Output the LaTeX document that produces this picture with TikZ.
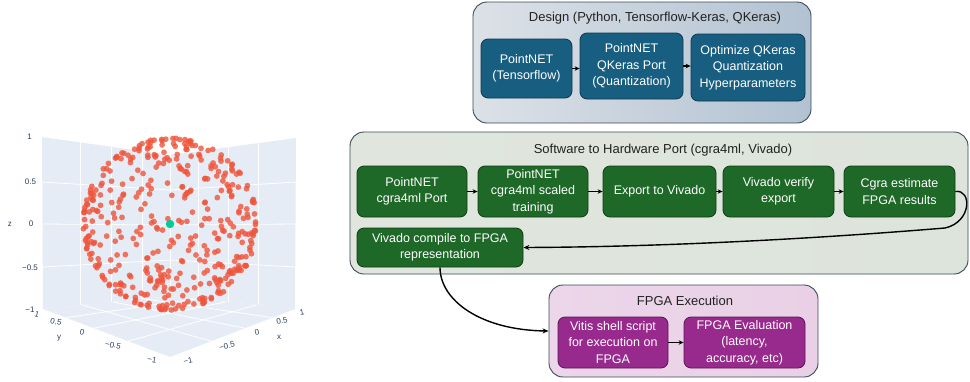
\documentclass[tikz,border=0pt]{standalone}
\usepackage{fontspec}
\setmainfont{Liberation Sans}
\usetikzlibrary{arrows.meta}
\definecolor{plotbg}{HTML}{E5ECF6}
\definecolor{plottxt}{HTML}{2A3F5F}
\definecolor{ptred}{HTML}{EF553B}
\definecolor{ptgreen}{HTML}{00CC96}
\definecolor{bluebox}{HTML}{175E80}
\definecolor{bluedark}{HTML}{0C3A52}
\definecolor{greenbox}{HTML}{1E6828}
\definecolor{greendark}{HTML}{103E16}
\definecolor{purplebox}{HTML}{982A8D}
\definecolor{purpledark}{HTML}{5A1652}
\definecolor{contline}{HTML}{3A4A58}
\definecolor{titletxt}{HTML}{222222}
\definecolor{desL}{RGB}{220,225,231}
\definecolor{desM}{RGB}{182,197,212}
\definecolor{desR}{RGB}{178,194,210}
\definecolor{sofL}{RGB}{224,230,222}
\definecolor{sofM}{RGB}{163,186,160}
\definecolor{sofR}{RGB}{221,228,219}
\definecolor{fpgL}{RGB}{236,214,234}
\definecolor{fpgM}{RGB}{212,160,205}
\definecolor{fpgR}{RGB}{233,208,230}
\begin{document}
\begin{tikzpicture}[x=1pt,y=-1pt,
  gridln/.style={white, line width=0.8pt},
  ticklbl/.style={text=plottxt, font=\fontsize{8}{9}\selectfont, inner sep=0pt},
  cont/.style={draw=contline, line width=0.9pt, rounded corners=14pt, inner sep=0pt},
  ctitle/.style={text=titletxt, font=\fontsize{13}{15}\selectfont, inner sep=0pt},
  box/.style={rounded corners=7pt, line width=0.8pt, text=white, align=center, inner sep=1pt, font=\fontsize{12.5}{16.5}\selectfont},
  bbox/.style={box, fill=bluebox, draw=bluedark},
  gbox/.style={box, fill=greenbox, draw=greendark},
  pbox/.style={box, fill=purplebox, draw=purpledark},
  arr/.style={-{Stealth[length=5pt,width=4.5pt]}, line width=1.1pt, black},
  arrlong/.style={-{Stealth[length=6pt,width=5pt]}, line width=1.4pt, black}]
\useasboundingbox (0,0) rectangle (970,381);

% ---------- 3D scatter plot ----------
\fill[plotbg] (42,137) -- (170,155) -- (170,296) -- (43,309) -- cycle;
\fill[plotbg] (170,155) -- (296,138) -- (295,309) -- (170,296) -- cycle;
\fill[plotbg] (43,309) -- (170,296) -- (295,309) -- (170,357) -- cycle;
% left wall grid
\draw[gridln] (80.4,142.4) -- (80.4,305.1);
\draw[gridln] (111,146.7) -- (111,302);
\draw[gridln] (142,151) -- (142,298.9);
\draw[gridln] (42,182) -- (170,190);
\draw[gridln] (42,224) -- (170,225);
\draw[gridln] (43,267) -- (170,260);
% right wall grid
\draw[gridln] (258,143) -- (258,305);
\draw[gridln] (228,147) -- (228,302);
\draw[gridln] (198,151) -- (198,299);
\draw[gridln] (170,190) -- (296,182);
\draw[gridln] (170,225) -- (296,224);
\draw[gridln] (170,260) -- (295,267);
\draw[gridln] (170,155) -- (170,296);
% floor grid
\draw[gridln] (211.3,341.2) -- (82.4,305);
\draw[gridln] (245,328.2) -- (112.9,301.9);
\draw[gridln] (272.5,317.6) -- (143.3,298.7);
\draw[gridln] (128.1,341.2) -- (256.3,305);
\draw[gridln] (93.8,328.2) -- (226.3,301.9);
\draw[gridln] (65.9,317.6) -- (196.3,298.7);

% points on the sphere
\pgfmathsetseed{2718}
\foreach \i in {1,...,420}{
  \pgfmathsetmacro\zz{rand}
  \pgfmathsetmacro\ph{360*rnd}
  \pgfmathsetmacro\rr{sqrt(max(0,1-\zz*\zz))}
  \fill[ptred, fill opacity=0.8] ({170+87*\rr*cos(\ph)},{224-86*\zz}) circle[radius=2.9pt];
}
\fill[ptgreen] (170,224) circle[radius=4.2pt];

% tick labels
\node[ticklbl] (z1) at (29.5,137) {1};
\node[ticklbl] (z05) at (30.5,182) {0.5};
\node[ticklbl] (z0) at (31,224) {0};
\node[ticklbl] (zm05) at (30,268) {−0.5};
\node[ticklbl] (zm1) at (30,310) {−1};
\node[ticklbl, rotate=-15] (y1) at (37,314) {1};
\node[ticklbl] (zlab) at (10,224) {z};
\node[ticklbl, rotate=-12] (y05) at (56,322) {0.5};
\node[ticklbl, rotate=-12] (y0) at (82,332) {0};
\node[ticklbl, rotate=-12] (ym05) at (113,345) {−0.5};
\node[ticklbl, rotate=-12] (ym1) at (152,360) {−1};
\node[ticklbl] (ylab) at (59,338) {y};
\node[ticklbl, rotate=12] (x1) at (302,312) {1};
\node[ticklbl, rotate=12] (x05) at (282,321) {0.5};
\node[ticklbl, rotate=12] (x0) at (257,332) {0};
\node[ticklbl, rotate=12] (xm05) at (227,346) {−0.5};
\node[ticklbl, rotate=12] (xm1) at (188,361) {−1};
\node[ticklbl] (xlab) at (279,337) {x};

% ---------- containers ----------
\node[cont, minimum width=338pt, minimum height=121pt,
      left color=desL, middle color=desM, right color=desR] (design) at (642,62.5) {};
\node[cont, minimum width=618pt, minimum height=142pt,
      left color=sofL, middle color=sofM, right color=sofR] (soft) at (659,203) {};
\node[cont, minimum width=269pt, minimum height=92pt,
      left color=fpgL, middle color=fpgM, right color=fpgR] (fx) at (683.5,331) {};

\node[ctitle] (designt) at (655,18) {Design (Python, Tensorflow-Keras, QKeras)};
\node[ctitle] (softt) at (663,150) {Software to Hardware Port (cgra4ml, Vivado)};
\node[ctitle] (fxt) at (685,301) {FPGA Execution};

% ---------- design boxes ----------
\node[bbox, minimum width=91pt, minimum height=59pt] (d1) at (526.5,68.5) {PointNET\\(Tensorflow)};
\node[bbox, minimum width=103pt, minimum height=66pt] (d2) at (631.5,66) {PointNET\\QKeras Port\\(Quantization)};
\node[bbox, minimum width=114pt, minimum height=67pt] (d3) at (748,67.5) {Optimize QKeras\\Quantization\\Hyperparameters};

% ---------- software boxes ----------
\node[gbox, minimum width=110pt, minimum height=51pt] (g1) at (412,191.5) {PointNET\\cgra4ml Port};
\node[gbox, minimum width=110pt, minimum height=51pt] (g2) at (533,191.5) {PointNET\\cgra4ml scaled\\training};
\node[gbox, minimum width=113pt, minimum height=51pt] (g3) at (659.5,191.5) {Export to Vivado};
\node[gbox, minimum width=111pt, minimum height=51pt] (g4) at (778.5,191.5) {Vivado verify\\export};
\node[gbox, minimum width=111pt, minimum height=51pt] (g5) at (899.5,191.5) {Cgra estimate\\FPGA results};
\node[gbox, minimum width=166pt, minimum height=39pt] (g6) at (440,247.5) {Vivado compile to FPGA\\representation};

% ---------- FPGA boxes ----------
\node[pbox, minimum width=110pt, minimum height=51pt] (p1) at (613,342.5) {Vitis shell script\\for execution on\\FPGA};
\node[pbox, minimum width=121pt, minimum height=51pt] (p2) at (744.5,342.5) {FPGA Evaluation\\(latency,\\accuracy,\ etc)};

% ---------- connectors ----------
\draw[arr] (d1.east) -- (d1.east -| d2.west);
\draw[arr] (d2.east) -- (d2.east -| d3.west);
\draw[arr] (g1) -- (g2);
\draw[arr] (g2) -- (g3);
\draw[arr] (g3) -- (g4);
\draw[arr] (g4) -- (g5);
\draw[arr] (p1) -- (p2);
\draw[arrlong] (g5.east) .. controls (972,189) and (972,222) .. (945,228) .. controls (800,240) and (650,247) .. (g6.east);
\draw[arrlong] (g6.south) .. controls (440,300) and (480,330) .. (fx.west);
\end{tikzpicture}
\end{document}
